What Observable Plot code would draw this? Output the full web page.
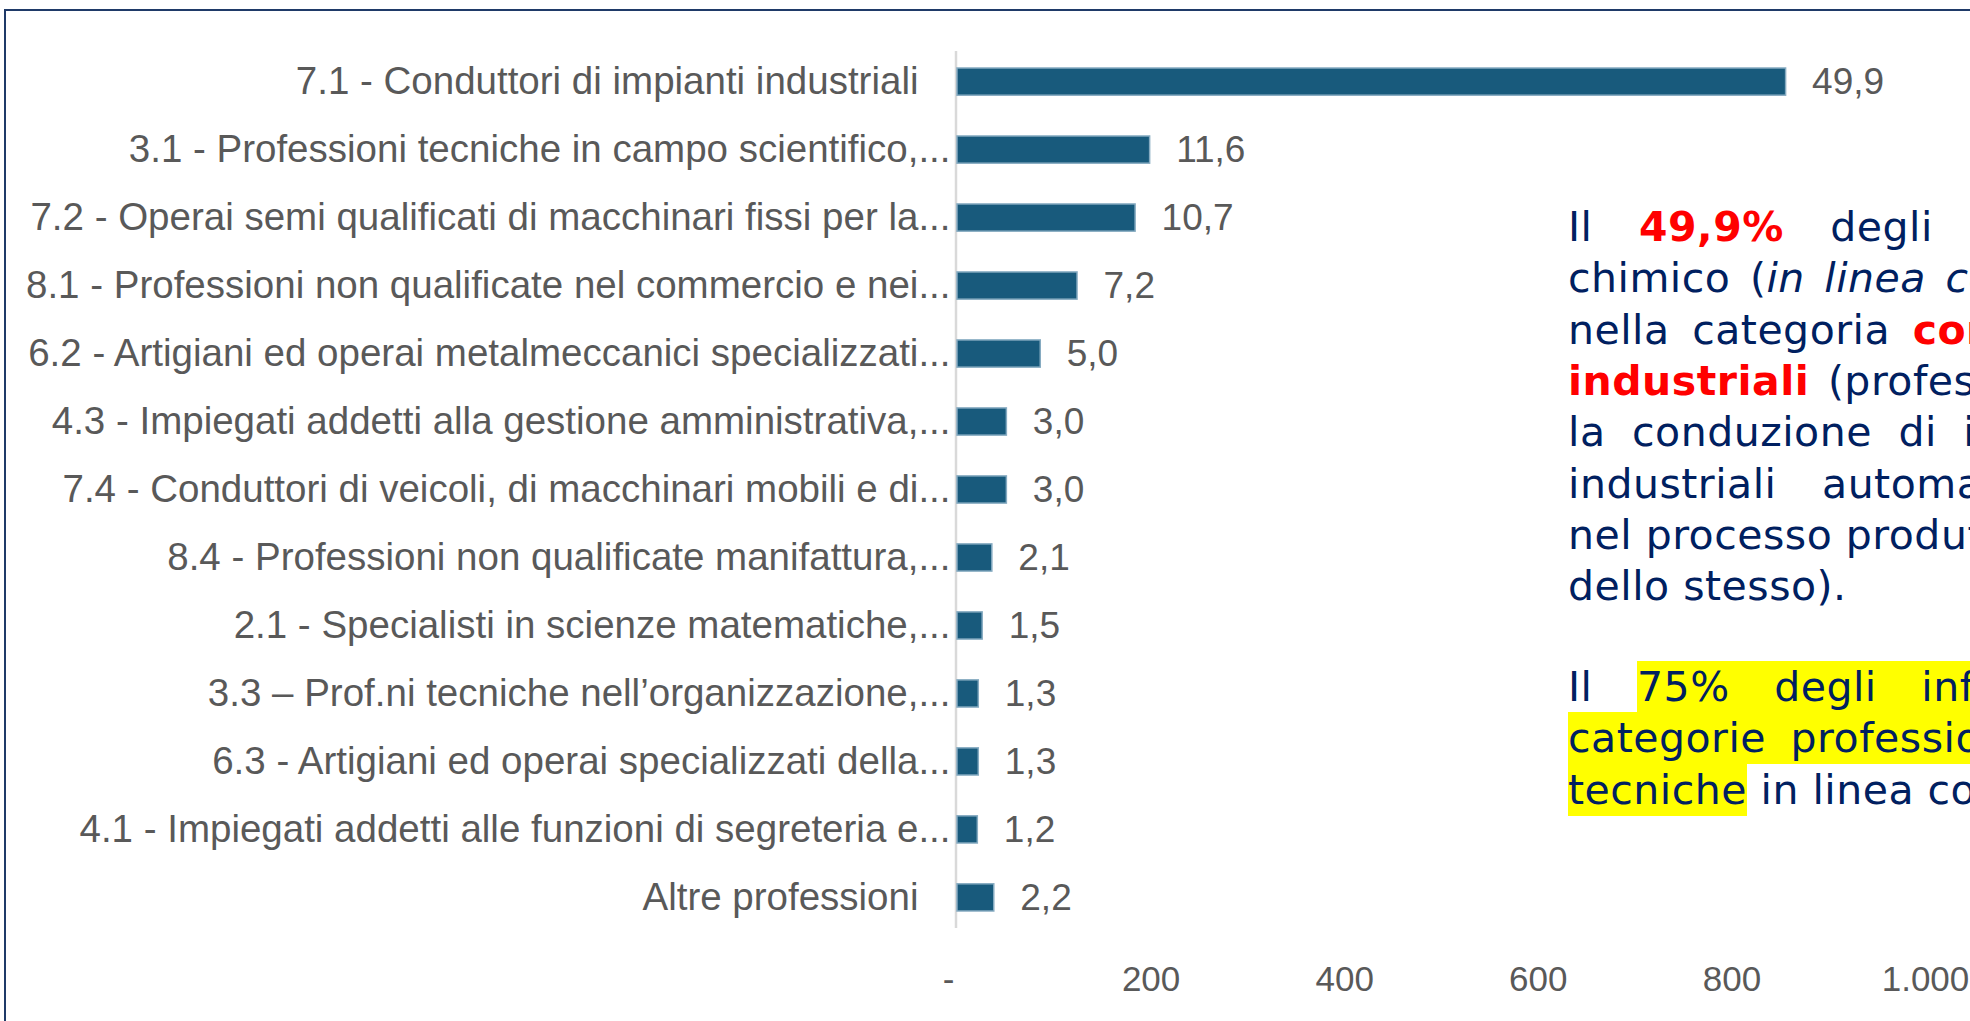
<!DOCTYPE html>
<html>
<head>
<meta charset="utf-8">
<script src="https://cdn.jsdelivr.net/npm/d3@7"></script>
<script src="https://cdn.jsdelivr.net/npm/@observablehq/plot@0.6"></script>
<style>
  html, body { margin: 0; padding: 0; width: 1970px; height: 1021px; overflow: hidden; background: #fff; }
  #frame { position: absolute; left: 4px; top: 9px; width: 2000px; height: 1100px;
           border-left: 2px solid #1f3a68; border-top: 2px solid #1f3a68; }
  #chart { position: absolute; left: 0; top: 0; }
  #note { position: absolute; left: 1568px; top: 0; font-family: "DejaVu Sans", Verdana, sans-serif;
          font-size: 41px; color: #002060; white-space: nowrap; letter-spacing: 0.5px; }
  #note .ln { position: absolute; left: 0; height: 51.3px; line-height: 51.3px; }
  #note b.r { color: #ff0000; font-weight: bold; }
  #note .hl { background: #ffff00; padding: 2px 0; }
</style>
</head>
<body>
<div id="frame"></div>
<div id="chart"></div>
<div id="note"></div>
<script>
// ---- data ----
const categories = [
  "7.1 - Conduttori di impianti industriali",
  "3.1 - Professioni tecniche in campo scientifico,...",
  "7.2 - Operai semi qualificati di macchinari fissi per la...",
  "8.1 - Professioni non qualificate nel commercio e nei...",
  "6.2 - Artigiani ed operai metalmeccanici specializzati...",
  "4.3 - Impiegati addetti alla gestione amministrativa,...",
  "7.4 - Conduttori di veicoli, di macchinari mobili e di...",
  "8.4 - Professioni non qualificate manifattura,...",
  "2.1 - Specialisti in scienze matematiche,...",
  "3.3 \u2013 Prof.ni tecniche nell\u2019organizzazione,...",
  "6.3 - Artigiani ed operai specializzati della...",
  "4.1 - Impiegati addetti alle funzioni di segreteria e...",
  "Altre professioni"
];
const counts = [856, 199, 184, 124, 86, 51, 51, 36, 26, 22, 22, 21, 38];
const percents = [49.9, 11.6, 10.7, 7.2, 5.0, 3.0, 3.0, 2.1, 1.5, 1.3, 1.3, 1.2, 2.2];
const xTicks = [0, 200, 400, 600, 800, 1000];

const noteLines1 = [
  'Il <b class="r">49,9%</b> degli infortunati del settore',
  'chimico (<i>in linea con il dato nazionale</i>) rientra',
  'nella categoria <b class="r">conduttori di impianti</b>',
  '<b class="r">industriali</b> (professioni addette al controllo e',
  'la conduzione di impianti e macchinari',
  'industriali automatizzati che intervengono',
  'nel processo produttivo e nel monitoraggio',
  'dello stesso).'
];
const noteLines2 = [
  'Il <span class="hl">75% degli infortunati appartiene alle</span>',
  '<span class="hl">categorie professionali operaie e</span>',
  '<span class="hl">tecniche</span> in linea con il dato nazionale.'
];
const wordSpacing1 = [33, 6, 9, 5, 13, 32, 0, 0];
const wordSpacing2 = [31, 11, 0];

// ---- chart ----
const data = categories.map((c, i) => ({category: c, count: counts[i], pct: percents[i]}));
const itFmt = d3.formatLocale({decimal: ",", thousands: ".", grouping: [3]});
const pctFmt = itFmt.format(".1f");
const tickFmt = d => d === 0 ? "-" : itFmt.format(",")(d);
const grey = "#595959";
const truncated = d => d.category.endsWith("...");

const plot = Plot.plot({
  width: 1970,
  height: 1021,
  marginLeft: 957,
  marginRight: 45,
  marginTop: 51,
  marginBottom: 93,
  style: {background: "transparent", fontFamily: "'Liberation Sans', Arial, sans-serif"},
  x: {domain: [0, 1000], label: null},
  y: {domain: categories, paddingInner: 0.6, paddingOuter: 0.25, round: false, axis: null},
  marks: [
    Plot.ruleX([0], {stroke: "#d9d9d9", strokeWidth: 2.5, dx: -1.5}),
    Plot.barX(data, {x: "count", y: "category", fill: "#185a7c", stroke: "#86abc1", strokeWidth: 1.5}),
    Plot.text(data, {x: "count", y: "category", text: d => pctFmt(d.pct), textAnchor: "start",
                     dx: 26, fill: grey, fontSize: 37}),
    Plot.text(data.filter(truncated), {x: 0, y: "category", text: "category", textAnchor: "end",
                     dx: -7, fill: grey, fontSize: 38.5}),
    Plot.text(data.filter(d => !truncated(d)), {x: 0, y: "category", text: "category", textAnchor: "end",
                     dx: -39, fill: grey, fontSize: 38.5}),
    Plot.axisX({ticks: xTicks.filter(t => t !== 0), tickFormat: tickFmt, tickSize: 0, tickPadding: 38,
                fontSize: 35, fill: grey, label: null}),
    Plot.axisX({ticks: xTicks.filter(t => t === 0), tickFormat: tickFmt, tickSize: 0, tickPadding: 38,
                fontSize: 35, fill: grey, label: null, dx: -9})
  ]
});
document.getElementById("chart").appendChild(plot);

// ---- text block ----
const note = document.getElementById("note");
noteLines1.forEach((html, i) => {
  const div = document.createElement("div");
  div.className = "ln";
  div.style.top = (202 + i * 51.3) + "px";
  div.style.wordSpacing = wordSpacing1[i] + "px";
  div.innerHTML = html;
  note.appendChild(div);
});
noteLines2.forEach((html, i) => {
  const div = document.createElement("div");
  div.className = "ln";
  div.style.top = (662 + i * 51.3) + "px";
  div.style.wordSpacing = wordSpacing2[i] + "px";
  div.innerHTML = html;
  note.appendChild(div);
});
</script>
</body>
</html>
